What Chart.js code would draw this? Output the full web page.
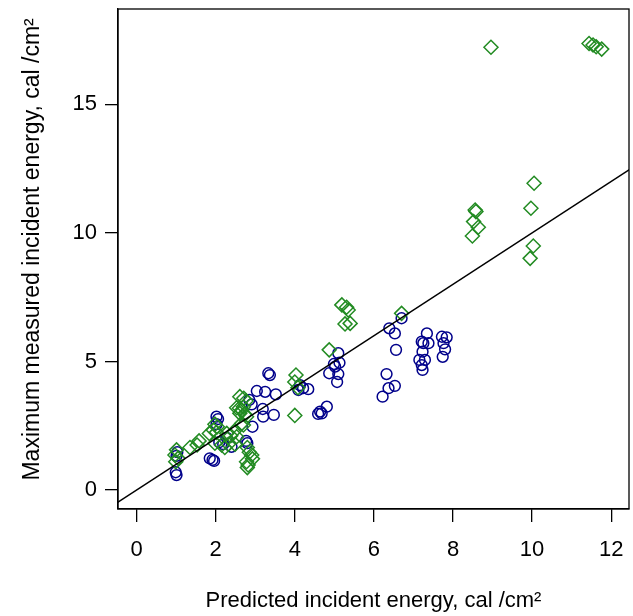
<!DOCTYPE html>
<html>
<head>
<meta charset="utf-8">
<script src="https://cdn.jsdelivr.net/npm/chart.js@4/dist/chart.umd.min.js"></script>
<style>
  html, body { margin: 0; padding: 0; background: #fff; }
  #chart { display: block; }
</style>
</head>
<body>
<canvas id="chart" width="633" height="616"></canvas>
<script>
// ── Data ──
const xTicks = [0, 2, 4, 6, 8, 10, 12];
const yTicks = [0, 5, 10, 15];

// blue circles
const circleX = [3.37, 3.33, 3.04, 3.25, 3.52, 2.85, 2.91, 3.19, 3.20, 3.47, 2.93, 2.02, 2.06, 2.02,
  2.77, 2.80, 2.09, 2.19, 2.40, 2.28, 1.85, 1.92, 1.96, 1.03, 1.01, 0.99, 1.01,
  6.70, 6.39, 6.53, 6.56, 5.10, 5.13, 4.99, 5.02, 4.87, 5.10, 5.07, 6.32, 6.37, 6.53, 6.22,
  4.13, 4.21, 4.34, 4.09, 4.81, 4.64, 4.59, 4.68,
  7.34, 7.21, 7.25, 7.38, 7.23, 7.15, 7.29, 7.21, 7.23, 7.72, 7.84, 7.76, 7.80, 7.74];
const circleY = [4.47, 4.54, 3.85, 3.82, 3.72, 3.50, 3.33, 3.15, 2.85, 2.92, 2.46, 2.85, 2.76, 2.56,
  1.91, 1.82, 1.86, 1.78, 1.68, 2.03, 1.23, 1.17, 1.13, 1.47, 1.33, 0.69, 0.58,
  6.68, 6.29, 6.09, 5.45, 5.32, 4.95, 4.90, 4.80, 4.54, 4.51, 4.20, 4.51, 3.96, 4.05, 3.63,
  4.08, 3.96, 3.92, 3.89, 3.24, 3.05, 2.96, 2.98,
  6.09, 5.77, 5.71, 5.71, 5.38, 5.06, 5.06, 4.86, 4.67, 5.96, 5.94, 5.71, 5.47, 5.18];

// green diamonds
const diamondX = [8.96, 11.44, 11.54, 11.62, 11.76, 10.05, 9.97, 8.56, 8.58, 8.52, 8.64, 8.49, 10.03, 9.95,
  5.19, 5.31, 5.35, 5.27, 5.40, 6.70, 4.87, 4.03, 4.00, 4.08, 4.00,
  2.61, 2.71, 2.77, 2.53, 2.60, 2.66, 2.70, 2.61, 2.74, 2.78, 2.66, 2.70, 1.98, 2.04, 1.94, 2.02,
  1.58, 1.53, 1.35, 1.84, 2.28, 2.38, 2.46, 2.53, 2.15, 2.23, 2.32, 1.98, 2.49, 2.80,
  2.85, 2.91, 2.93, 2.78, 2.82, 2.80, 1.01, 0.97, 1.05, 0.99];
const diamondY = [17.22, 17.37, 17.31, 17.24, 17.15, 11.93, 10.96, 10.89, 10.83, 10.44, 10.22, 9.88, 9.49, 9.01,
  7.20, 7.11, 7.00, 6.46, 6.48, 6.87, 5.45, 4.47, 4.20, 3.98, 2.90,
  3.63, 3.57, 3.46, 3.20, 3.18, 3.11, 3.24, 2.98, 2.94, 2.85, 2.59, 2.53, 2.56, 2.46, 2.33, 2.24,
  1.91, 1.75, 1.65, 2.20, 2.20, 2.11, 2.27, 2.07, 1.75, 1.65, 1.78, 1.82, 1.78, 1.65,
  1.47, 1.36, 1.21, 1.10, 0.97, 0.87, 1.56, 1.36, 1.23, 1.10];

// y = x reference line
const refX = [-1, 13];
const refY = [-1, 13];

const xRange = [-0.47, 12.45];
const yRange = [-0.74, 18.71];

const FAMILY = '"Liberation Sans", Arial, Helvetica, sans-serif';
const FONT = { family: FAMILY, size: 22 };

const toPoints = (xs, ys) => xs.map((x, i) => ({ x, y: ys[i] }));

// no extra label padding, so the plot box lands where the reference has it
function noPad(s) {
  s.paddingLeft = 0; s.paddingRight = 0; s.paddingTop = 0; s.paddingBottom = 0;
}

// ── Full box around the plot region ──
const boxPlugin = {
  id: 'box',
  afterDraw(chart) {
    const { ctx, chartArea: a } = chart;
    ctx.save();
    ctx.strokeStyle = '#000';
    ctx.lineWidth = 1.3;
    ctx.strokeRect(a.left, a.top, a.right - a.left, a.bottom - a.top);
    ctx.restore();
  }
};

new Chart(document.getElementById('chart'), {
  type: 'scatter',
  data: {
    datasets: [
      {
        type: 'line',
        data: toPoints(refX, refY),
        borderColor: '#000',
        borderWidth: 1.5,
        pointRadius: 0,
        fill: false,
        order: 0,
      },
      {
        data: toPoints(diamondX, diamondY),
        pointStyle: 'rectRot',
        pointRadius: 7,
        pointBorderWidth: 1.5,
        borderColor: '#228B22',
        backgroundColor: 'rgba(0,0,0,0)',
        order: 1,
      },
      {
        data: toPoints(circleX, circleY),
        pointStyle: 'circle',
        pointRadius: 5.4,
        pointBorderWidth: 1.5,
        borderColor: '#00008B',
        backgroundColor: 'rgba(0,0,0,0)',
        order: 2,
      },
    ],
  },
  options: {
    responsive: false,
    animation: false,
    layout: { autoPadding: false, padding: { top: 9, right: 4, left: 0, bottom: 0 } },
    plugins: { legend: { display: false }, tooltip: { enabled: false } },
    scales: {
      x: {
        type: 'linear',
        min: xRange[0],
        max: xRange[1],
        afterBuildTicks: s => { s.ticks = xTicks.map(v => ({ value: v })); },
        afterFit: s => { s.height = 107; noPad(s); },
        grid: { drawOnChartArea: false, drawTicks: true, tickLength: 13, color: '#000', lineWidth: 1.3 },
        border: { display: true, color: '#000', width: 1.3 },
        ticks: { color: '#000', font: FONT, padding: 15, maxRotation: 0 },
        title: {
          display: true,
          text: 'Predicted incident energy, cal /cm²',
          color: '#000',
          font: FONT,
          padding: { top: 0, bottom: 2 },
        },
      },
      y: {
        type: 'linear',
        min: yRange[0],
        max: yRange[1],
        afterBuildTicks: s => { s.ticks = yTicks.map(v => ({ value: v })); },
        afterFit: s => { s.width = 118; noPad(s); },
        grid: { drawOnChartArea: false, drawTicks: true, tickLength: 13, color: '#000', lineWidth: 1.3 },
        border: { display: true, color: '#000', width: 1.3 },
        ticks: { color: '#000', font: FONT, padding: 8 },
        title: {
          display: true,
          text: '\u00A0\u00A0\u00A0Maximum measured incident energy, cal /cm²',
          color: '#000',
          font: { family: FAMILY, size: 23 },
          padding: { top: 19, bottom: 0 },
        },
      },
    },
  },
  plugins: [boxPlugin],
});
</script>
</body>
</html>
